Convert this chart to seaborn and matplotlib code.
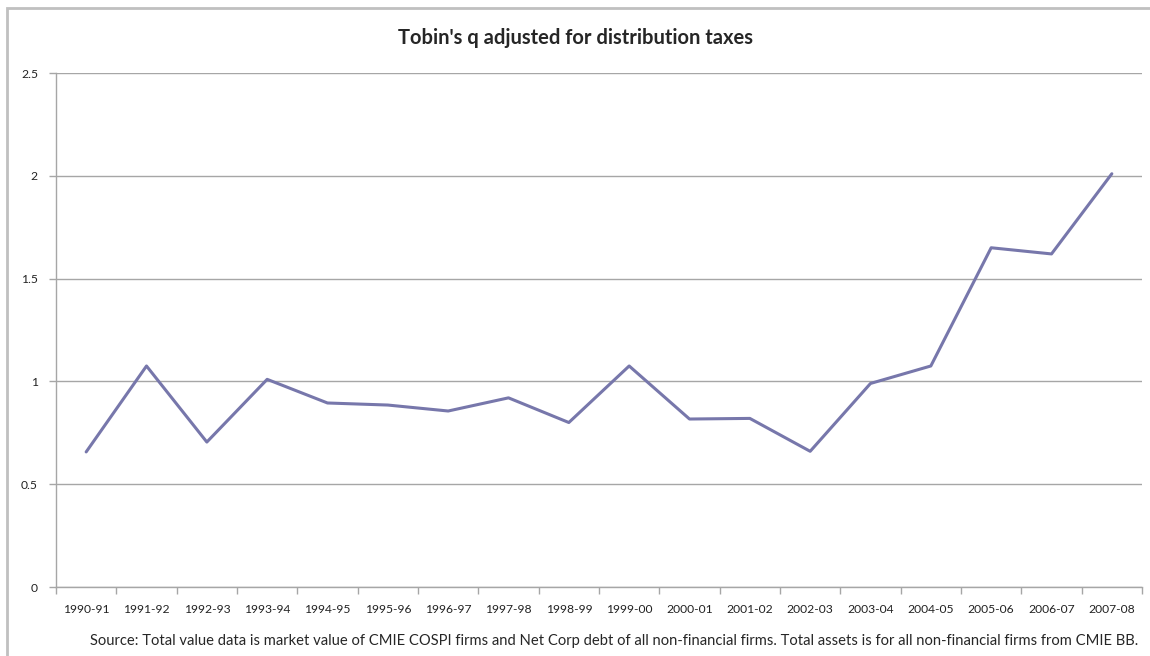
import numpy as np
import pandas as pd
import seaborn as sns
import matplotlib.pyplot as plt
from matplotlib.patches import Rectangle
from matplotlib.ticker import FixedLocator

years = ["1990-91", "1991-92", "1992-93", "1993-94", "1994-95", "1995-96",
         "1996-97", "1997-98", "1998-99", "1999-00", "2000-01", "2001-02",
         "2002-03", "2003-04", "2004-05", "2005-06", "2006-07", "2007-08"]
tobins_q = [0.657, 1.075, 0.705, 1.01, 0.895, 0.885,
            0.856, 0.92, 0.80, 1.075, 0.817, 0.82,
            0.66, 0.99, 1.075, 1.65, 1.62, 2.01]

df = pd.DataFrame({"year": years, "q": tobins_q})

sns.set_style("white")
plt.rcParams["font.family"] = ["Lato", "DejaVu Sans"]

fig = plt.figure(figsize=(11.5, 6.56), dpi=100)
ax = fig.add_axes([56 / 1150, 1 - 587 / 656, (1142 - 56) / 1150, (587 - 73) / 656])

grid_col = "#a6a6a6"
sns.lineplot(data=df, x="year", y="q", ax=ax, color="#7777ab", linewidth=2.2, sort=False)

ax.set_xlim(-0.5, len(years) - 0.5)
ax.set_ylim(0, 2.5)
ax.set_yticks([0, 0.5, 1, 1.5, 2, 2.5])
ax.set_yticklabels(["0", "0.5", "1", "1.5", "2", "2.5"])
ax.set_xticks(range(len(years)))
ax.set_xticklabels(years)
ax.xaxis.set_minor_locator(FixedLocator(np.arange(-0.5, len(years), 1.0)))
ax.set_xlabel("")
ax.set_ylabel("")

ax.yaxis.grid(True, color=grid_col, linewidth=1)
ax.set_axisbelow(True)
for side in ["top", "right"]:
    ax.spines[side].set_visible(False)
for side in ["left", "bottom"]:
    ax.spines[side].set_color(grid_col)
    ax.spines[side].set_linewidth(1)

ax.tick_params(axis="x", which="major", length=0, pad=12, labelsize=8.7, colors="#222222")
ax.tick_params(axis="x", which="minor", length=5, color=grid_col, width=1, bottom=True)
ax.tick_params(axis="y", length=5, color=grid_col, width=1, labelsize=8.7, left=True,
               colors="#222222", pad=8)

fig.text(0.5, 1 - 38 / 656, "Tobin's q adjusted for distribution taxes",
         ha="center", va="center", fontsize=14.5, fontweight="bold")
fig.text(614 / 1150, 1 - 641 / 656,
         "Source: Total value data is market value of CMIE COSPI firms and Net Corp debt of all "
         "non-financial firms. Total assets is for all non-financial firms from CMIE BB.",
         ha="center", va="center", fontsize=10.6)

fig.patches.append(Rectangle((7 / 1150, -0.1), 1.2, 1 - 8 / 656 + 0.1,
                             transform=fig.transFigure, fill=False,
                             edgecolor="#c0c0c0", linewidth=2))

fig.savefig("out.png", dpi=100)
